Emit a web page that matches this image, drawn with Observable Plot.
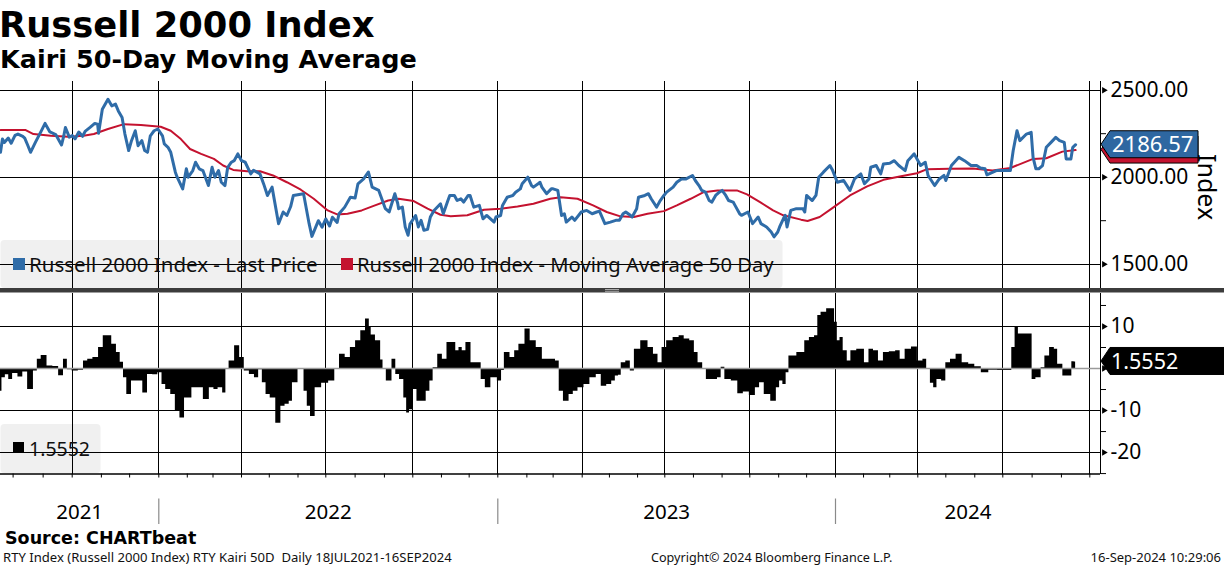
<!DOCTYPE html>
<html><head><meta charset="utf-8">
<script src="https://cdn.jsdelivr.net/npm/d3@7"></script>
<script src="https://cdn.jsdelivr.net/npm/@observablehq/plot@0.6"></script>
<style>
html,body{margin:0;padding:0;background:#fff;}
#root{position:relative;width:1224px;height:566px;overflow:hidden;background:#fff;font-family:"Noto Sans",sans-serif;}
.layer{position:absolute;left:0;}
</style></head>
<body><div id="root"></div>
<script>
// ---------------- DATA ----------------
const priceDates = ["2021-07-19","2021-07-21","2021-07-23","2021-07-27","2021-07-30","2021-08-03","2021-08-06","2021-08-11","2021-08-13","2021-08-16","2021-08-19","2021-08-24","2021-08-30","2021-09-03","2021-09-08","2021-09-14","2021-09-20","2021-09-22","2021-09-24","2021-09-28","2021-10-01","2021-10-04","2021-10-08","2021-10-12","2021-10-15","2021-10-20","2021-10-25","2021-10-28","2021-10-29","2021-11-02","2021-11-08","2021-11-12","2021-11-16","2021-11-19","2021-11-23","2021-11-26","2021-11-30","2021-12-03","2021-12-07","2021-12-10","2021-12-14","2021-12-17","2021-12-20","2021-12-23","2021-12-27","2021-12-31",
"2022-01-05","2022-01-07","2022-01-11","2022-01-14","2022-01-19","2022-01-21","2022-01-27","2022-01-31","2022-02-02","2022-02-07","2022-02-10","2022-02-14","2022-02-18","2022-02-22","2022-02-24","2022-02-28","2022-03-03","2022-03-07","2022-03-10","2022-03-14","2022-03-17","2022-03-21","2022-03-24","2022-03-28","2022-04-01","2022-04-05","2022-04-11","2022-04-14","2022-04-21","2022-04-25","2022-04-29","2022-05-04","2022-05-11","2022-05-16","2022-05-20","2022-05-24","2022-05-27","2022-06-07","2022-06-13","2022-06-16","2022-06-23","2022-06-27","2022-07-01","2022-07-05","2022-07-08","2022-07-13","2022-07-15","2022-07-21","2022-07-27","2022-08-01","2022-08-04","2022-08-10","2022-08-15","2022-08-16","2022-08-19","2022-08-26","2022-09-02","2022-09-06","2022-09-12","2022-09-15","2022-09-16","2022-09-20","2022-09-23","2022-09-26","2022-09-28","2022-10-04","2022-10-07","2022-10-10","2022-10-13","2022-10-17","2022-10-20","2022-10-24","2022-10-31","2022-11-03","2022-11-08","2022-11-10","2022-11-15","2022-11-18","2022-11-22","2022-11-25","2022-11-30","2022-12-02","2022-12-06","2022-12-12","2022-12-16","2022-12-20","2022-12-28","2022-12-30",
"2023-01-04","2023-01-06","2023-01-11","2023-01-17","2023-01-20","2023-01-25","2023-01-27","2023-02-02","2023-02-06","2023-02-08","2023-02-13","2023-02-15","2023-02-17","2023-02-22","2023-02-27","2023-03-01","2023-03-06","2023-03-10","2023-03-13","2023-03-15","2023-03-21","2023-03-24","2023-03-31","2023-04-06","2023-04-12","2023-04-17","2023-04-20","2023-04-26","2023-05-02","2023-05-08","2023-05-12","2023-05-16","2023-05-19","2023-05-24","2023-05-26","2023-05-31","2023-06-02","2023-06-09","2023-06-13","2023-06-16","2023-06-22","2023-06-26","2023-06-30","2023-07-03","2023-07-10","2023-07-14","2023-07-19","2023-07-24","2023-07-31","2023-08-03","2023-08-07","2023-08-10","2023-08-14","2023-08-18","2023-08-21","2023-08-25","2023-08-29","2023-09-01","2023-09-05","2023-09-08","2023-09-13","2023-09-15","2023-09-20","2023-09-22","2023-09-29","2023-10-04","2023-10-10","2023-10-13","2023-10-19","2023-10-24","2023-10-27","2023-10-31","2023-11-02","2023-11-06","2023-11-08","2023-11-10","2023-11-14","2023-11-20","2023-11-27","2023-11-29","2023-12-01","2023-12-07","2023-12-11","2023-12-14","2023-12-19","2023-12-26","2023-12-29",
"2024-01-03","2024-01-10","2024-01-17","2024-01-22","2024-01-29","2024-02-02","2024-02-07","2024-02-09","2024-02-15","2024-02-20","2024-02-23","2024-03-01","2024-03-06","2024-03-11","2024-03-18","2024-03-21","2024-03-28","2024-04-04","2024-04-09","2024-04-12","2024-04-19","2024-04-24","2024-04-29","2024-05-01","2024-05-07","2024-05-15","2024-05-21","2024-05-28","2024-06-03","2024-06-07","2024-06-12","2024-06-14","2024-06-24","2024-06-28","2024-07-09","2024-07-12","2024-07-16","2024-07-19","2024-07-26","2024-07-31","2024-08-02","2024-08-05","2024-08-08","2024-08-12","2024-08-16","2024-08-21","2024-08-26","2024-08-30","2024-09-04","2024-09-06","2024-09-11","2024-09-13","2024-09-16"];
const priceValues = [2143,2220,2200,2225,2195,2240,2248,2235,2225,2185,2143,2200,2265,2309,2260,2245,2185,2230,2286,2230,2240,2220,2260,2235,2265,2286,2309,2305,2252,2391,2448,2410,2420,2381,2343,2248,2153,2210,2267,2181,2210,2153,2143,2238,2267,2277,
2238,2191,2172,2143,2029,2000,1933,2048,2000,2038,2086,2048,2038,1981,1952,2057,2000,2038,1971,1952,2057,2086,2095,2134,2095,2086,2019,2040,2019,1960,1895,1943,1733,1800,1780,1830,1895,1905,1733,1660,1750,1713,1760,1720,1770,1740,1790,1828,1885,1880,1962,1990,2030,2010,1943,1924,1819,1800,1905,1850,1819,1828,1714,1666,1730,1780,1714,1752,1695,1700,1771,1809,1847,1790,1866,1895,1895,1866,1876,1857,1895,1895,1828,1838,1761,1780,1742,1771,
1780,1838,1885,1895,1914,1933,1962,2000,1952,1943,1962,1971,1943,1905,1933,1933,1924,1780,1790,1742,1771,1752,1800,1809,1790,1800,1805,1733,1742,1752,1752,1790,1800,1781,1771,1819,1885,1895,1905,1876,1828,1866,1895,1914,1943,1971,1990,1990,2010,1981,1952,1924,1914,1866,1857,1895,1914,1924,1895,1866,1857,1838,1790,1781,1800,1733,1771,1733,1714,1685,1657,1685,1714,1761,1781,1714,1809,1819,1819,1800,1895,1866,1895,2000,2029,2067,2038,
1971,1981,1924,1990,2019,1962,1990,2057,2067,2019,2076,2080,2095,2067,2038,2095,2134,2067,2086,2010,1952,1990,2010,1981,2067,2114,2095,2067,2067,2053,2048,2013,2038,2038,2038,2153,2267,2210,2248,2258,2114,2048,2048,2067,2172,2200,2229,2210,2200,2105,2105,2172,2186.57];

const maDates = ["2021-07-19","2021-08-14","2021-08-22","2021-09-09","2021-09-27","2021-10-13","2021-10-24","2021-11-08","2021-11-25","2021-12-13","2022-01-03","2022-01-14","2022-01-25","2022-02-04","2022-02-16","2022-03-02","2022-03-12","2022-03-23","2022-04-07","2022-04-21","2022-05-05","2022-05-20","2022-06-04","2022-06-18","2022-07-03","2022-07-13","2022-07-24","2022-08-08","2022-08-22","2022-09-05","2022-09-16","2022-10-02","2022-10-17","2022-10-31","2022-11-11","2022-11-29","2022-12-17","2023-01-04","2023-01-22","2023-02-08","2023-02-26","2023-03-09","2023-03-27","2023-04-13","2023-04-28","2023-05-13","2023-05-28","2023-06-12","2023-06-30","2023-07-14","2023-07-29","2023-08-12","2023-08-27","2023-09-17","2023-09-28","2023-10-12","2023-10-26","2023-11-06","2023-11-25","2023-12-02","2023-12-15","2023-12-29","2024-01-17","2024-02-05","2024-02-23","2024-03-12","2024-03-31","2024-04-11","2024-05-05","2024-05-30","2024-06-20","2024-07-09","2024-08-02","2024-08-16","2024-09-02","2024-09-16"];
const maValues = [2271,2271,2248,2238,2233,2238,2248,2277,2305,2300,2290,2267,2219,2162,2134,2105,2067,2042,2034,2034,2010,1971,1928,1876,1809,1786,1790,1809,1838,1866,1876,1863,1819,1784,1775,1781,1813,1819,1832,1847,1876,1885,1876,1838,1800,1775,1771,1790,1805,1838,1876,1914,1924,1924,1901,1857,1809,1781,1756,1748,1771,1824,1895,1947,1985,2004,2023,2046,2048,2050,2038,2053,2105,2109,2147,2156];

const kairiDates = ["2021-07-19","2021-07-22","2021-07-26","2021-07-29","2021-08-03","2021-08-09","2021-08-13","2021-08-19","2021-08-25","2021-08-27","2021-09-02","2021-09-08","2021-09-14","2021-09-20","2021-09-24","2021-09-28","2021-10-04","2021-10-11","2021-10-15","2021-10-20","2021-10-26","2021-11-01","2021-11-05","2021-11-09","2021-11-15","2021-11-19","2021-11-23","2021-11-26","2021-11-30","2021-12-06","2021-12-13","2021-12-17","2021-12-23","2021-12-28",
"2022-01-03","2022-01-06","2022-01-11","2022-01-17","2022-01-21","2022-01-27","2022-01-31","2022-02-04","2022-02-08","2022-02-15","2022-02-22","2022-02-28","2022-03-04","2022-03-09","2022-03-14","2022-03-16","2022-03-21","2022-03-28","2022-04-01","2022-04-07","2022-04-12","2022-04-18","2022-04-21","2022-04-26","2022-04-29","2022-05-05","2022-05-11","2022-05-16","2022-05-20","2022-05-25","2022-05-27","2022-06-06","2022-06-09","2022-06-13","2022-06-16","2022-06-23","2022-06-30","2022-07-08","2022-07-13","2022-07-18","2022-07-25","2022-07-29","2022-08-05","2022-08-09","2022-08-15","2022-08-17","2022-08-19","2022-08-26","2022-08-30","2022-08-31","2022-09-06","2022-09-12","2022-09-14","2022-09-20","2022-09-23","2022-09-26","2022-09-29","2022-10-04","2022-10-07","2022-10-13","2022-10-18","2022-10-21","2022-10-25","2022-10-31","2022-11-04","2022-11-10","2022-11-15","2022-11-18","2022-11-22","2022-11-25","2022-11-30","2022-12-06","2022-12-12","2022-12-16","2022-12-21","2022-12-28",
"2023-01-04","2023-01-06","2023-01-10","2023-01-18","2023-01-20","2023-01-27","2023-02-02","2023-02-07","2023-02-15","2023-02-20","2023-03-01","2023-03-06","2023-03-09","2023-03-15","2023-03-21","2023-03-24","2023-03-31","2023-04-06","2023-04-13","2023-04-20","2023-04-24","2023-05-02","2023-05-05","2023-05-10","2023-05-12","2023-05-16","2023-05-22","2023-05-26","2023-05-31","2023-06-09","2023-06-16","2023-06-21","2023-06-26","2023-06-30","2023-07-06","2023-07-14","2023-07-19","2023-07-25","2023-07-31","2023-08-04","2023-08-08","2023-08-14","2023-08-16","2023-08-24","2023-08-30","2023-09-01","2023-09-07","2023-09-15","2023-09-21","2023-09-27","2023-10-04","2023-10-10","2023-10-13","2023-10-20","2023-10-27","2023-11-01","2023-11-03","2023-11-08","2023-11-10","2023-11-14","2023-11-27","2023-12-01","2023-12-07","2023-12-12","2023-12-14","2023-12-19","2023-12-26","2023-12-29",
"2024-01-02","2024-01-04","2024-01-08","2024-01-11","2024-01-17","2024-01-19","2024-01-30","2024-02-05","2024-02-09","2024-02-15","2024-02-20","2024-02-26","2024-03-04","2024-03-11","2024-03-14","2024-03-22","2024-03-28","2024-04-04","2024-04-09","2024-04-12","2024-04-17","2024-04-19","2024-04-24","2024-04-29","2024-05-03","2024-05-09","2024-05-15","2024-05-22","2024-05-29","2024-06-04","2024-06-12","2024-06-20","2024-07-01","2024-07-09","2024-07-12","2024-07-16","2024-07-19","2024-07-26","2024-07-31","2024-08-02","2024-08-08","2024-08-13","2024-08-16","2024-08-23","2024-08-26","2024-08-30","2024-09-06","2024-09-11","2024-09-13","2024-09-16"];
const kairiValues = [-5.4,-2.2,-1.5,-2.6,-1.2,-2.0,-0.8,-5.0,-0.6,2.2,3.1,0.6,0.5,-1.7,2.2,-0.3,-0.6,-0.4,1.8,2.2,2.6,5.0,7.8,7.8,5.8,3.8,1.5,-2.2,-6.2,-3.0,-3.0,-5.8,-1.4,-1.5,
-1.0,-3.8,-5.0,-6.2,-10.0,-11.8,-7.0,-7.0,-4.6,-4.6,-7.4,-4.6,-5.0,-4.6,-5.8,0,1.8,5.4,2.6,-0.6,-1.4,-2.2,-0.3,-3.4,-6.2,-7.0,-13.0,-9.0,-8.5,-7.8,-3.4,0,-5.4,-9.0,-11.4,-4.6,-3.5,-3.0,0,3.4,2.6,5.0,6.6,9.0,11.8,10.0,8.0,6.6,2.0,0,-3.0,2.2,-1.4,-2.6,-7.0,-10.6,-9.8,-5.0,-7.8,-7.8,-5.4,-3.0,0.2,3.4,2.2,6.2,6.2,4.2,5.0,4.2,6.2,1.4,1.4,-2.6,-4.6,-2.2,
-3.0,-0.5,3.8,2.6,4.2,5.8,9.4,6.6,5.0,2.2,2.2,1.8,-5.4,-7.8,-6.2,-5.4,-4.6,-3.8,-2.2,-1.4,-4.2,-3.8,-3.0,-1.8,-1.6,1.4,1.8,-0.6,4.6,6.6,5.0,3.4,1.4,5.0,6.6,7.4,7.8,7.0,6.6,3.8,1.4,0,-2.6,-2.6,-2.2,0.3,-2.6,-3.0,-6.0,-5.6,-6.4,-4.6,-3.4,-6.2,-7.8,-4.6,-3.0,-3.8,-1.0,3.0,3.8,6.6,7.4,7.8,12.6,13.4,14.2,14.2,
11.0,6.6,7.4,4.2,1.8,4.2,4.6,1.4,4.6,4.2,1.8,3.8,4.0,4.2,2.2,4.6,5.1,1.8,2.2,0,-3.5,-4.6,-2.6,-3.0,1.4,2.2,3.4,1.4,1.0,0.4,-1.0,-0.4,-0.5,-0.5,5.0,9.8,8.2,8.2,8.2,-2.6,-2.2,0.2,3.0,5.0,4.6,1.0,-1.8,-1.8,1.6,1.5552];

const quarterStarts = ["2021-10-01","2022-01-01","2022-04-01","2022-07-01","2022-10-01","2023-01-01","2023-04-01","2023-07-01","2023-10-01","2024-01-01","2024-04-01","2024-07-01","2024-10-01"];
const yearLabels = ["2021","2022","2023","2024"];
const yearStarts = ["2022-01-01","2023-01-01","2024-01-01"];
const priceMajor = [1500, 2000, 2500];
const priceMinor = [1750, 2250];
const kairiMajor = [10, 0, -10, -20];
const kairiLabeled = [10, -10, -20];
const kairiMinor = [15, 5, -5, -15, -25];
const lastPriceLabel = "2186.57";
const lastKairiLabel = "1.5552";

// ---------------- BUILD ----------------
const parse = d3.utcParse("%Y-%m-%d");
const rows = (ds, vs) => ds.map((d, i) => ({date: parse(d), value: vs[i]}));
const price = rows(priceDates, priceValues);
const ma = rows(maDates, maValues);
const kairi = rows(kairiDates, kairiValues);
const qs = quarterStarts.map(parse);
const xStart = parse("2021-07-19"), xEnd = parse("2024-10-14");
const xOpts = {type: "utc", domain: [xStart, ...qs, xEnd],
  range: [0, 71.7, 158.3, 241, 325.3, 412.3, 497.3, 581.7, 664.3, 749.3, 835, 917.3, 1002.3, 1089.3, 1100], axis: null};

const BLUE = "#2f6ca8", RED = "#c4122f";
const FONT = "Noto Sans";
const root = d3.select("#root");

// underlay: legend backgrounds
const under = root.append("svg").attr("class", "layer").attr("width", 1224).attr("height", 566).style("top", "0px");
under.append("rect").attr("x", 0.5).attr("y", 240).attr("width", 782).attr("height", 48).attr("rx", 4).attr("fill", "#f0f0f0");
under.append("rect").attr("x", 0.5).attr("y", 424).attr("width", 100).attr("height", 49).attr("rx", 4).attr("fill", "#f0f0f0");

const common = {width: 1224, marginLeft: 0, marginRight: 124, marginTop: 0,
  style: {fontFamily: FONT, fontSize: "21px", color: "black", background: "transparent", overflow: "visible"}};

const topPlot = Plot.plot({
  ...common, height: 207, marginBottom: 0,
  x: xOpts,
  y: {domain: [1360.3, 2550]},
  marks: [
    Plot.ruleX(qs, {stroke: "black", strokeWidth: 1, shapeRendering: "crispEdges"}),
    Plot.ruleY(priceMajor, {stroke: "black", strokeWidth: 1, shapeRendering: "crispEdges"}),
    Plot.ruleX([xEnd], {stroke: "black", strokeWidth: 1.2, shapeRendering: "crispEdges"}),
    Plot.line(ma, {x: "date", y: "value", stroke: RED, strokeWidth: 2}),
    Plot.line(price, {x: "date", y: "value", stroke: BLUE, strokeWidth: 3, strokeLinejoin: "round"}),
    Plot.axisY({anchor: "right", ticks: priceMajor, tickSize: 0, tickPadding: 10, tickFormat: d3.format(".2f"), label: null, fontSize: 21, color: "black"}),
    Plot.axisY({anchor: "right", ticks: priceMinor, tickSize: 5, tickFormat: () => "", label: null, color: "black"}),
    Plot.dot(priceMajor, {y: d => d, frameAnchor: "right", symbol: "triangle", r: 2.4, rotate: 90, fill: "black", stroke: null, dx: 3.5})
  ]
});
const topDiv = root.append("div").attr("class", "layer").style("top", "81px");
topDiv.node().appendChild(topPlot);

const xs = Plot.scale({x: {type: "utc", domain: xOpts.domain, range: xOpts.range}});
const yearMids = yearLabels.map(y => {
  const a = new Date(Date.UTC(+y, 0, 1)), b = new Date(Date.UTC(+y + 1, 0, 1));
  const pa = xs.apply(a < xStart ? xStart : a), pb = xs.apply(b > xEnd ? xEnd : b);
  return {label: y, date: xs.invert((pa + pb) / 2)};
});
const months = d3.utcMonth.range(d3.utcMonth.ceil(xStart), xEnd);

const botPlot = Plot.plot({
  ...common, height: 233, marginBottom: 52.5,
  x: xOpts,
  y: {domain: [-25.1, 17.85]},
  marks: [
    Plot.ruleX(qs, {stroke: "black", strokeWidth: 1, shapeRendering: "crispEdges"}),
    Plot.ruleY([10, -10, -20], {stroke: "black", strokeWidth: 1, shapeRendering: "crispEdges"}),
    Plot.areaY(kairi, {x: "date", y: "value", curve: "step", fill: "black"}),
    Plot.ruleY([0], {stroke: "#9a9a9a", strokeWidth: 1.5}),
    Plot.ruleX([xEnd], {stroke: "black", strokeWidth: 1.2, shapeRendering: "crispEdges"}),
    Plot.ruleY([-25.1], {stroke: "black", strokeWidth: 1.5}),
    Plot.axisX({anchor: "bottom", ticks: months, tickSize: 4, tickFormat: () => "", label: null, color: "black"}),
    Plot.axisY({anchor: "right", ticks: kairiLabeled, tickSize: 0, tickPadding: 10, tickFormat: d => String(d), label: null, fontSize: 21, color: "black"}),
    Plot.axisY({anchor: "right", ticks: kairiMinor, tickSize: 5, tickFormat: () => "", label: null, color: "black"}),
    Plot.dot(kairiMajor, {y: d => d, frameAnchor: "right", symbol: "triangle", r: 2.4, rotate: 90, fill: "black", stroke: null, dx: 3.5}),
    Plot.ruleX(yearStarts.map(parse), {stroke: "#8a8a8a", strokeWidth: 1.2, insetTop: 155, dy: 50.5}),
    Plot.text(yearMids, {x: "date", text: "label", frameAnchor: "bottom", dy: 38.3, lineAnchor: "middle", fontSize: 20.5, fill: "black"})
  ]
});
const botDiv = root.append("div").attr("class", "layer").style("top", "292.5px");
botDiv.node().appendChild(botPlot);

// overlay
const ov = root.append("svg").attr("class", "layer").attr("width", 1224).attr("height", 566).style("top", "0px").style("font-family", FONT);
ov.append("text").attr("x", -1).attr("y", 36.5).attr("font-family", "DejaVu Sans").attr("font-weight", "bold").attr("font-size", 35.3).text("Russell 2000 Index");
ov.append("text").attr("x", 0).attr("y", 68).attr("font-family", "DejaVu Sans").attr("font-weight", "bold").attr("font-size", 25.5).text("Kairi 50-Day Moving Average");

// legends
ov.append("rect").attr("x", 13).attr("y", 258).attr("width", 12).attr("height", 12).attr("fill", BLUE);
ov.append("text").attr("x", 29).attr("y", 271.5).attr("font-size", 20.5).attr("fill", "#111").text("Russell 2000 Index - Last Price");
ov.append("rect").attr("x", 341).attr("y", 258).attr("width", 12).attr("height", 12).attr("fill", RED);
ov.append("text").attr("x", 357).attr("y", 271.5).attr("font-size", 20.2).attr("fill", "#111").text("Russell 2000 Index - Moving Average 50 Day");
ov.append("rect").attr("x", 13).attr("y", 442).attr("width", 11).attr("height", 11).attr("fill", "black");
ov.append("text").attr("x", 29).attr("y", 455.5).attr("font-size", 19.5).attr("fill", "#111").text(lastKairiLabel);

// panel separator
ov.append("rect").attr("x", 0).attr("y", 288).attr("width", 1224).attr("height", 4.5).attr("fill", "#3c3c3c");
ov.append("rect").attr("x", 605).attr("y", 289).attr("width", 14).attr("height", 0.9).attr("fill", "#b5b5b5");
ov.append("rect").attr("x", 605).attr("y", 290.8).attr("width", 14).attr("height", 0.9).attr("fill", "#b5b5b5");

// right axis title (vertical, reading top to bottom)
ov.append("text").attr("x", 1208).attr("y", 154).attr("font-size", 25).attr("fill", "black")
  .style("writing-mode", "vertical-rl").text("Index");

// value labels
const yTop = v => topPlot.scale("y").apply(v) + 81;
const yBot = v => botPlot.scale("y").apply(v) + 292.5;
function tag(yc, x2, fill) {
  const h = 13.5;
  ov.append("path").attr("d", `M1101,${yc}L1110,${yc - h}L${x2},${yc - h}L${x2},${yc + h}L1110,${yc + h}Z`)
    .attr("fill", fill).attr("stroke", "black").attr("stroke-width", 1);
}
tag(yTop(maValues[maValues.length - 1]), 1198, RED);
const yP = yTop(priceValues[priceValues.length - 1]);
tag(yP, 1198, "#2e67a1");
ov.append("text").attr("x", 1112).attr("y", yP + 7.8).attr("font-size", 22).attr("fill", "white").text(lastPriceLabel);
const yK = yBot(kairiValues[kairiValues.length - 1]);
tag(yK, 1226, "black");
ov.append("text").attr("x", 1111).attr("y", yK + 7.8).attr("font-size", 21.5).attr("fill", "white").text(lastKairiLabel);

// footer
ov.append("text").attr("x", 5).attr("y", 544).attr("font-family", "DejaVu Sans").attr("font-weight", "bold").attr("font-size", 17.5).text("Source: CHARTbeat");
ov.append("text").attr("x", 3).attr("y", 561.5).attr("font-size", 13.1).attr("fill", "#111").attr("xml:space", "preserve").text("RTY Index (Russell 2000 Index) RTY Kairi 50D  Daily 18JUL2021-16SEP2024");
ov.append("text").attr("x", 651).attr("y", 561.5).attr("font-size", 12.6).attr("fill", "#111").text("Copyright\u00A9 2024 Bloomberg Finance L.P.");
ov.append("text").attr("x", 1221).attr("y", 561.5).attr("font-size", 13).attr("fill", "#111").attr("text-anchor", "end").text("16-Sep-2024 10:29:06");
</script>
</body></html>
